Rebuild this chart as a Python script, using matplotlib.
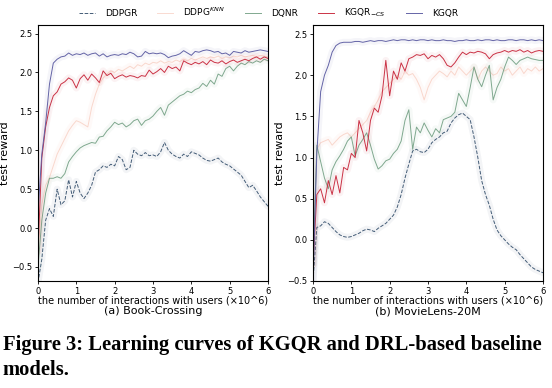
import numpy as np
import matplotlib
matplotlib.use('Agg')
import matplotlib.pyplot as plt

# x axis: number of interactions (x10^6), sampled every 0.1
steps = np.round(np.linspace(0, 6, 61), 1)

# --- (a) Book-Crossing ---
bc_ddpgr = [-0.70, -0.40, 0.10, 0.25, 0.15, 0.50, 0.30, 0.35, 0.62, 0.40,
            0.60, 0.45, 0.38, 0.45, 0.55, 0.72, 0.75, 0.80, 0.78, 0.82,
            0.80, 0.92, 0.88, 0.75, 0.78, 1.00, 0.95, 0.93, 0.97, 0.93,
            0.94, 0.92, 0.98, 1.10, 1.00, 0.95, 0.92, 0.90, 0.95, 0.92,
            0.98, 0.96, 0.94, 0.90, 0.87, 0.86, 0.88, 0.90, 0.85, 0.82,
            0.80, 0.76, 0.72, 0.68, 0.60, 0.52, 0.55, 0.48, 0.40, 0.34,
            0.28]
bc_ddpgknn = [-0.30, 0.30, 0.55, 0.65, 0.80, 0.95, 1.05, 1.15, 1.25, 1.32,
              1.38, 1.36, 1.33, 1.30, 1.55, 1.72, 1.85, 1.93, 1.98, 2.02,
              2.00, 2.04, 2.02, 2.05, 2.08, 2.05, 2.10, 2.08, 2.12, 2.10,
              2.13, 2.12, 2.15, 2.12, 2.14, 2.13, 2.16, 2.14, 2.17, 2.15,
              2.18, 2.16, 2.18, 2.20, 2.18, 2.20, 2.19, 2.21, 2.18, 2.20,
              2.19, 2.21, 2.20, 2.22, 2.20, 2.21, 2.22, 2.20, 2.22, 2.21,
              2.20]
bc_dqnr = [-0.50, 0.10, 0.45, 0.64, 0.64, 0.66, 0.64, 0.70, 0.85, 0.92,
           0.98, 1.03, 1.06, 1.08, 1.10, 1.09, 1.17, 1.18, 1.25, 1.30,
           1.36, 1.33, 1.35, 1.30, 1.33, 1.38, 1.40, 1.32, 1.38, 1.40,
           1.44, 1.50, 1.55, 1.45, 1.58, 1.62, 1.66, 1.70, 1.72, 1.76,
           1.74, 1.78, 1.80, 1.86, 1.82, 1.90, 1.85, 1.98, 1.95, 2.05,
           2.08, 2.02, 2.08, 2.12, 2.10, 2.14, 2.12, 2.15, 2.13, 2.17,
           2.15]
bc_kgqr_cs = [-0.30, 0.90, 1.30, 1.55, 1.70, 1.75, 1.85, 1.88, 1.93, 1.90,
              1.80, 1.92, 1.97, 1.90, 1.98, 1.93, 1.87, 2.02, 1.96, 1.99,
              1.92, 1.95, 1.97, 1.94, 1.96, 1.95, 1.93, 1.96, 1.95, 2.03,
              1.98, 2.01, 2.05, 2.00, 2.08, 2.05, 2.07, 2.02, 2.15, 2.12,
              2.10, 2.13, 2.11, 2.14, 2.10, 2.16, 2.13, 2.12, 2.15, 2.11,
              2.14, 2.16, 2.13, 2.15, 2.17, 2.15, 2.18, 2.20, 2.17, 2.20,
              2.18]
bc_kgqr = [0.20, 0.95, 1.35, 1.85, 2.12, 2.17, 2.20, 2.21, 2.25, 2.22,
           2.24, 2.23, 2.25, 2.22, 2.24, 2.25, 2.21, 2.24, 2.20, 2.22,
           2.23, 2.22, 2.24, 2.23, 2.26, 2.24, 2.20, 2.21, 2.27, 2.24,
           2.25, 2.24, 2.25, 2.23, 2.19, 2.21, 2.22, 2.24, 2.28, 2.25,
           2.22, 2.27, 2.26, 2.28, 2.29, 2.28, 2.26, 2.27, 2.24, 2.25,
           2.22, 2.27, 2.26, 2.25, 2.28, 2.26, 2.27, 2.28, 2.29, 2.28,
           2.27]

# --- (b) MovieLens-20M ---
ml_ddpgr = [-0.50, 0.15, 0.17, 0.22, 0.20, 0.15, 0.10, 0.06, 0.04, 0.03,
            0.04, 0.06, 0.08, 0.11, 0.13, 0.12, 0.10, 0.14, 0.17, 0.20,
            0.25, 0.30, 0.40, 0.55, 0.75, 0.92, 1.08, 1.10, 1.07, 1.06,
            1.10, 1.18, 1.22, 1.25, 1.30, 1.32, 1.42, 1.48, 1.52, 1.54,
            1.50, 1.46, 1.25, 1.00, 0.72, 0.55, 0.42, 0.25, 0.12, 0.05,
            0.00, -0.05, -0.09, -0.12, -0.18, -0.23, -0.28, -0.33, -0.36, -0.38,
            -0.40]
ml_ddpgknn = [-0.30, 1.10, 1.18, 1.20, 1.22, 1.15, 1.20, 1.25, 1.28, 1.30,
              1.25, 1.30, 1.35, 1.40, 1.45, 1.55, 1.62, 1.70, 1.80, 1.85,
              1.90, 1.95, 2.00, 1.95, 2.05, 2.00, 2.02, 1.95, 1.85, 1.70,
              1.85, 1.95, 2.00, 2.05, 2.02, 1.98, 2.05, 2.00, 2.10, 2.05,
              2.00, 2.05, 2.10, 1.95, 2.05, 2.10, 2.05, 2.00, 2.02, 2.10,
              2.05, 2.08, 2.00, 2.05, 2.10, 2.02, 2.08, 2.05, 2.10, 2.05,
              2.08]
ml_dqnr = [-0.30, 1.15, 0.95, 0.75, 0.62, 0.85, 0.95, 1.02, 1.10, 1.20,
           1.25, 1.02, 1.15, 1.22, 1.30, 1.15, 0.98, 0.86, 0.90, 0.96,
           0.98, 1.05, 1.10, 1.20, 1.45, 1.58, 1.10, 1.37, 1.30, 1.42,
           1.33, 1.25, 1.35, 1.30, 1.46, 1.48, 1.50, 1.55, 1.78, 1.70,
           1.62, 1.85, 2.10, 1.95, 1.86, 2.00, 2.12, 1.70, 1.85, 1.95,
           2.10, 2.22, 2.18, 2.13, 2.18, 2.20, 2.22, 2.20, 2.19, 2.18,
           2.18]
ml_kgqr_cs = [-0.30, 0.55, 0.62, 0.45, 0.72, 0.55, 0.78, 0.57, 0.88, 0.85,
              1.05, 1.00, 1.45, 1.30, 1.08, 1.45, 1.60, 1.55, 1.75, 2.18,
              1.75, 2.05, 1.95, 2.15, 2.05, 2.20, 2.22, 2.25, 2.24, 2.26,
              2.20, 2.24, 2.22, 2.25, 2.20, 2.12, 2.10, 2.15, 2.22, 2.28,
              2.25, 2.28, 2.27, 2.29, 2.28, 2.26, 2.20, 2.25, 2.27, 2.28,
              2.30, 2.28, 2.30, 2.29, 2.31, 2.28, 2.30, 2.27, 2.29, 2.30,
              2.29]
ml_kgqr = [-0.50, 1.05, 1.80, 2.00, 2.12, 2.28, 2.36, 2.39, 2.40, 2.40,
           2.40, 2.41, 2.41, 2.40, 2.41, 2.42, 2.41, 2.42, 2.42, 2.41,
           2.42, 2.43, 2.42, 2.43, 2.43, 2.42, 2.43, 2.42, 2.43, 2.43,
           2.42, 2.43, 2.42, 2.42, 2.43, 2.42, 2.42, 2.41, 2.42, 2.42,
           2.43, 2.42, 2.42, 2.43, 2.42, 2.43, 2.43, 2.42, 2.43, 2.42,
           2.42, 2.43, 2.43, 2.42, 2.43, 2.43, 2.42, 2.43, 2.42, 2.43,
           2.42]

labels = ['DDPGR', 'DDPG$^{KNN}$', 'DQNR', 'KGQR$_{-CS}$', 'KGQR']
colors = ['#3a5470', '#f2a48c', '#6a9a7c', '#c8283c', '#5c5ca2']
styles = ['--', '-', '-', '-', '-']
alphas = [0.95, 0.4, 0.85, 0.95, 0.95]

fig = plt.figure(figsize=(5.52, 3.88), dpi=100)
ax1 = fig.add_axes([0.0688, 0.2758, 0.4167, 0.6598])
ax2 = fig.add_axes([0.567, 0.2758, 0.4167, 0.6598])

panels = [
    (ax1, [bc_ddpgr, bc_ddpgknn, bc_dqnr, bc_kgqr_cs, bc_kgqr], (-0.68, 2.61)),
    (ax2, [ml_ddpgr, ml_ddpgknn, ml_dqnr, ml_kgqr_cs, ml_kgqr], (-0.5, 2.61)),
]

handles = []
for ax, series, ylim in panels:
    for i, ys in enumerate(series):
        # faint halo to mimic the shaded spread around each curve
        ax.plot(steps, ys, color=colors[i], lw=5, alpha=0.06,
                solid_capstyle='round')
        ln, = ax.plot(steps, ys, color=colors[i], ls=styles[i], lw=0.7,
                      alpha=alphas[i], label=labels[i])
        if ax is ax1:
            handles.append(ln)
    ax.set_xlim(0, 6)
    ax.set_ylim(*ylim)
    ax.set_yticks([-0.5, 0.0, 0.5, 1.0, 1.5, 2.0, 2.5])
    ax.set_xticks(range(7))
    ax.tick_params(labelsize=6, length=2.5, width=0.6, pad=1.5)
    for sp in ax.spines.values():
        sp.set_linewidth(0.8)
    ax.set_xlabel('the number of interactions with users (×10^6)',
                  fontsize=7, labelpad=0)
    ax.set_ylabel('test reward', fontsize=8, labelpad=2)

fig.legend(handles, labels, loc='center', bbox_to_anchor=(0.486, 0.968),
           ncol=5, frameon=False, fontsize=6.5, handlelength=1.8,
           columnspacing=2.2, handletextpad=1.1)

fig.text(0.277, 1 - 311 / 388, '(a) Book-Crossing', ha='center', va='center', fontsize=8)
fig.text(0.775, 1 - 311 / 388, '(b) MovieLens-20M', ha='center', va='center', fontsize=8)

fig.text(0.005, 1 - 345 / 388,
         'Figure 3: Learning curves of KGQR and DRL-based baseline',
         ha='left', va='center', fontsize=14.8, fontweight='bold',
         family='Liberation Serif')
fig.text(0.005, 1 - 370 / 388, 'models.', ha='left', va='center',
         fontsize=14.8, fontweight='bold', family='Liberation Serif')

fig.savefig('out.png', dpi=100)
